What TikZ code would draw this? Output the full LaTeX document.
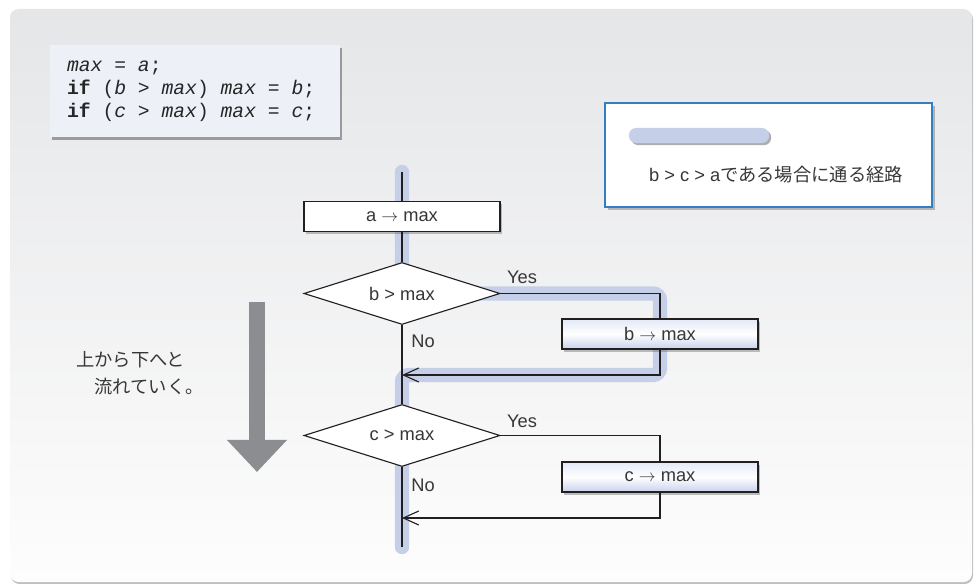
\documentclass[tikz,border=0pt]{standalone}
\usepackage{fontspec}
\setmainfont{Liberation Sans}
\setmonofont{Liberation Mono}
\newfontfamily\jpfont{Noto Sans CJK JP}
\usepackage{xcolor}
\usepackage{tikz}
\usetikzlibrary{arrows.meta, shapes.geometric, positioning, backgrounds, shadows, calc}
\definecolor{paneltop}{RGB}{229, 230, 232}
\definecolor{panelbot}{RGB}{253, 253, 253}
\definecolor{codefill}{RGB}{238, 240, 248}
\definecolor{routeblue}{RGB}{197, 208, 232}
\definecolor{legendline}{RGB}{52, 126, 196}
\definecolor{flowgray}{RGB}{140, 141, 144}
\definecolor{boxtop}{RGB}{226, 232, 246}
\definecolor{boxbot}{RGB}{200, 210, 235}
\definecolor{inkgray}{RGB}{55, 55, 55}
\definecolor{linecol}{RGB}{35, 31, 32}

\tikzset{
  boxshadow/.style={drop shadow={shadow xshift=1.5pt, shadow yshift=-1.8pt, opacity=0.35, fill=black!70}},
  procbox/.style={rectangle, draw=linecol, line width=0.8pt, fill=white, text=inkgray,
    minimum width=4.9cm, minimum height=0.75cm, inner sep=0pt, boxshadow},
  shadebox/.style={procbox, top color=boxtop, bottom color=boxbot, middle color=white},
  decision/.style={diamond, aspect=3, draw=linecol, line width=0.8pt, fill=white, text=inkgray,
    minimum width=4.9cm, minimum height=1.55cm, inner sep=0pt},
  flow/.style={draw=linecol, line width=0.8pt},
  back/.style={flow, -{Straight Barb[length=11pt, width=10pt]}},
  lbl/.style={text=inkgray, inner sep=0pt},
}

\begin{document}
\begin{tikzpicture}[x=0.025cm, y=-0.025cm, font=\fontsize{13}{15}\selectfont]
  \useasboundingbox (0,0) rectangle (976,584);

  % Code
  \node[rectangle, fill=codefill, anchor=west, text width=6.4cm, inner xsep=0.42cm,
        minimum height=2.3cm, align=left, text=black!85,
        font=\ttfamily\fontsize{14}{16.3}\selectfont,
        drop shadow={shadow xshift=1.5pt, shadow yshift=-2pt, opacity=0.5, fill=black!70}] (code) at (50,91)
    {\spaceskip=0.6em\relax
     \textit{max} = \textit{a};\\
     \textbf{if} (\textit{b} > \textit{max}) \textit{max} = \textit{b};\\
     \textbf{if} (\textit{c} > \textit{max}) \textit{max} = \textit{c};};

  % Legend
  \node[rectangle, draw=legendline, line width=0.9pt, fill=white,
        minimum width=8.175cm, minimum height=2.6cm,
        drop shadow={shadow xshift=2pt, shadow yshift=-2pt, opacity=0.35, fill=black!70}] (legend) at (768.5,155) {};
  \node[rectangle, fill=routeblue, rounded corners=5pt, minimum width=3.5cm, minimum height=0.375cm,
        inner sep=0pt, drop shadow={shadow xshift=1.5pt, shadow yshift=-1.5pt, opacity=0.45, fill=black!70}] (legendbar) at (699,135.5) {};
  \node[lbl] (legendtext) at (776,175) {b > c > a\jpfont である場合に通る経路};

  % Direction arrow
  \coordinate (downtop) at (257,302);
  \coordinate (downtip) at (257,472);
  \draw[flowgray, line width=0.4cm, -{Triangle[length=0.8cm, width=1.45cm]}] (downtop) -- (downtip);
  \node[lbl, anchor=west, align=left, font=\jpfont\fontsize{13}{19.5}\selectfont] (note) at (76,373)
    {上から下へと\\\hspace*{1em}流れていく。};

  % Flowchart
  \coordinate (ftop) at (402,172);
  \node[procbox] (amax) at (402,216.5) {a $\rightarrow$ max};
  \node[decision] (bcheck) at (402,293.5) {b > max};
  \node[shadebox] (bmax) at (660,334) {b $\rightarrow$ max};
  \coordinate (join1) at (402,375);
  \node[decision] (ccheck) at (402,435.5) {c > max};
  \node[shadebox] (cmax) at (660,477) {c $\rightarrow$ max};
  \coordinate (join2) at (402,518);
  \coordinate (fbot) at (402,547);

  \node[lbl] (yes1) at (522,277) {Yes};
  \node[lbl] (no1) at (423,341) {No};
  \node[lbl] (yes2) at (522,421) {Yes};
  \node[lbl] (no2) at (423,485) {No};

  \draw[flow] (ftop) -- (amax);
  \draw[flow] (amax) -- (bcheck);
  \draw[flow] (bcheck) -- (ccheck);
  \draw[flow] (ccheck) -- (fbot);
  \draw[flow] (bcheck.east) -| (bmax);
  \draw[back] (bmax) |- (join1);
  \draw[flow] (ccheck.east) -| (cmax);
  \draw[back] (cmax) |- (join2);

  \begin{pgfonlayer}{background}
    % Panel
    \fill[black!25, rounded corners=6pt] (11,11) rectangle (973,584);
    \shade[top color=paneltop, bottom color=panelbot, rounded corners=6pt] (10,9) rectangle (972,582);
    % Route b > c > a
    \draw[routeblue, line width=0.36cm, line cap=round, rounded corners=5pt]
      (ftop) -- (bcheck.center) -- (bcheck.center -| bmax.center) -- (bmax.center |- join1)
      -- (join1) -- (fbot);
  \end{pgfonlayer}
\end{tikzpicture}
\end{document}
